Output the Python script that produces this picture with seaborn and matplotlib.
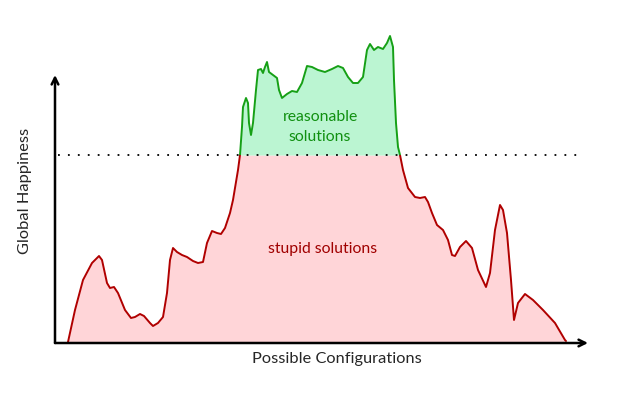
import matplotlib
matplotlib.use("Agg")
import matplotlib.pyplot as plt
import matplotlib.patches as mpatches
import numpy as np
import pandas as pd
import seaborn as sns

# configuration index (horizontal) and happiness (vertical)
config = [68, 75, 83, 92, 99, 102, 107, 110, 114, 118, 125, 131, 135, 140, 144, 150, 153, 158,
          163, 167, 170, 173, 177, 182, 187, 193, 198, 203, 207, 212, 217, 221, 225, 230, 233,
          238, 240, 242, 243, 246, 248, 249, 251, 253, 256, 258, 261, 263, 265, 267, 269, 273,
          277, 279, 282, 287, 292, 297, 302, 307, 312, 318, 325, 332, 338, 343, 348, 353, 358,
          363, 367, 370, 374, 378, 383, 387, 390, 393, 394, 396, 398, 400, 403, 408, 415, 420,
          425, 428, 432, 437, 443, 448, 452, 455, 460, 466, 472, 478, 486, 490, 495, 500, 503,
          507, 511, 514, 518, 525, 533, 543, 555, 565, 566]
screen_y = [342, 310, 280, 263, 256, 260, 283, 288, 287, 293, 310, 318, 317, 314, 316, 323, 326, 323,
            317, 293, 260, 248, 252, 255, 257, 261, 263, 262, 243, 231, 233, 234, 228, 213, 200,
            170, 155, 127, 107, 98, 103, 123, 135, 123, 90, 70, 69, 73, 67, 62, 72, 75,
            78, 90, 98, 94, 91, 92, 83, 66, 67, 70, 72, 69, 66, 68, 77, 83, 83,
            77, 50, 44, 50, 47, 49, 43, 36, 47, 80, 123, 147, 155, 170, 188, 197, 198,
            197, 202, 213, 225, 230, 240, 255, 256, 247, 241, 248, 270, 287, 273, 230, 205, 210,
            233, 280, 320, 303, 294, 300, 310, 323, 340, 341]
happiness = [343 - v for v in screen_y]
threshold = 343 - 155
y_top = 343 - 75

x_label = "Possible Configurations"
y_label = "Global Happiness"
good_text = "reasonable\nsolutions"
bad_text = "stupid solutions"

red_line = "#b00000"
red_fill = "#ffd5d8"
green_line = "#16a016"
green_fill = "#bbf5d2"

sns.set_style("white")
plt.rcParams["font.family"] = ["Lato", "DejaVu Sans"]

df = pd.DataFrame({"config": config, "happiness": happiness})
x = df["config"].to_numpy(float)
y = df["happiness"].to_numpy(float)

fig = plt.figure(figsize=(6.39, 3.96), dpi=100)
ax = fig.add_axes([55 / 639, 53 / 396, 533 / 639, 343 / 396])
ax.set_xlim(55, 588)
ax.set_ylim(0, 343)

ax.fill_between(x, 0, np.minimum(y, threshold), color=red_fill, lw=0)
ax.fill_between(x, threshold, y, where=y > threshold, interpolate=True, color=green_fill, lw=0)

# same curve twice: red below the line, green above it
sns.lineplot(data=df, x="config", y="happiness", color=red_line, lw=1.4,
             estimator=None, sort=False, ax=ax)
sns.lineplot(data=df, x="config", y="happiness", color=green_line, lw=1.4,
             estimator=None, sort=False, ax=ax)
low = mpatches.Rectangle((55, -5), 533, threshold + 5, transform=ax.transData, visible=False)
high = mpatches.Rectangle((55, threshold), 533, 343 - threshold, transform=ax.transData,
                          visible=False)
ax.add_patch(low)
ax.add_patch(high)
ax.lines[-2].set_clip_path(low)
ax.lines[-1].set_clip_path(high)
for ln in ax.lines[-2:]:
    ln.set_solid_joinstyle("round")

ax.plot([58, 580], [threshold, threshold], color="black", lw=1.3, ls=(0, (1, 4.5)))

ax.text(320, 343 - 127, good_text, color="#109010", fontsize=11.3, ha="center", va="center",
        linespacing=1.6)
ax.text(323, 343 - 249, bad_text, color="#a00000", fontsize=11.3, ha="center", va="center")

for s in ax.spines.values():
    s.set_visible(False)
ax.set_xticks([])
ax.set_yticks([])
ax.set_xlabel("")
ax.set_ylabel("")

arrow = dict(arrowstyle="->", lw=1.8, color="black", mutation_scale=12, shrinkA=0, shrinkB=0)
ax.annotate("", xy=(588, 0), xytext=(55, 0), xycoords="data", arrowprops=arrow,
            annotation_clip=False)
ax.annotate("", xy=(55, y_top), xytext=(55, 0), xycoords="data", arrowprops=arrow,
            annotation_clip=False)

fig.text(337 / 639, 1 - 359 / 396, x_label, fontsize=11.8, ha="center", va="center")
fig.text(25 / 639, 1 - 191 / 396, y_label, fontsize=11.8, ha="center", va="center", rotation=90)

fig.savefig("out.png", dpi=100)
